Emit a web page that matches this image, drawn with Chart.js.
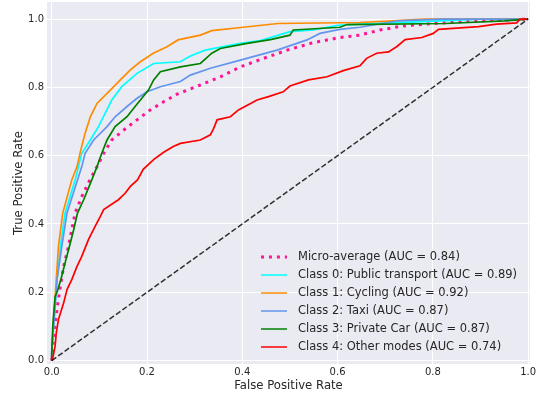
<!DOCTYPE html>
<html>
<head>
<meta charset="utf-8">
<script src="https://cdn.jsdelivr.net/npm/chart.js@4.4.1/dist/chart.umd.min.js"></script>
<style>
  html, body { margin: 0; padding: 0; background: #fff; }
</style>
</head>
<body>
<canvas id="rocChart" width="537" height="394"></canvas>
<script>
// ---- data (fpr / tpr pairs) ----
const tickValues = [0, 0.2, 0.4, 0.6, 0.8, 1.0];

const microFpr = [0, 0.003, 0.0075, 0.012, 0.018, 0.025, 0.035, 0.042, 0.049, 0.063, 0.08, 0.095, 0.109, 0.126, 0.151, 0.179, 0.207, 0.235, 0.263, 0.312, 0.354, 0.396, 0.445, 0.494, 0.549, 0.605, 0.647, 0.689, 0.738, 0.801, 0.857, 0.95, 1.0];
const microTpr = [0, 0.05, 0.11, 0.16, 0.217, 0.276, 0.334, 0.383, 0.432, 0.48, 0.529, 0.568, 0.607, 0.646, 0.675, 0.705, 0.734, 0.758, 0.78, 0.807, 0.831, 0.86, 0.885, 0.909, 0.931, 0.946, 0.953, 0.968, 0.98, 0.987, 0.992, 0.997, 1.0];

const ptFpr = [0, 0, 0.004, 0.011, 0.018, 0.028, 0.049, 0.056, 0.063, 0.081, 0.098, 0.112, 0.126, 0.147, 0.179, 0.214, 0.27, 0.291, 0.322, 0.396, 0.438, 0.5, 0.549, 0.6, 0.647, 0.815, 0.9, 1.0];
const ptTpr = [0, 0.03, 0.11, 0.237, 0.334, 0.432, 0.529, 0.568, 0.607, 0.646, 0.685, 0.724, 0.763, 0.802, 0.841, 0.870, 0.875, 0.892, 0.909, 0.929, 0.937, 0.963, 0.968, 0.982, 0.985, 0.995, 1.0, 1.0];

const cycFpr = [0, 0, 0.003, 0.005, 0.0095, 0.014, 0.023, 0.042, 0.053, 0.061, 0.070, 0.081, 0.095, 0.123, 0.144, 0.165, 0.186, 0.213, 0.242, 0.265, 0.312, 0.336, 0.402, 0.475, 0.647, 0.784, 1.0];
const cycTpr = [0, 0.02, 0.10, 0.14, 0.237, 0.334, 0.432, 0.529, 0.568, 0.617, 0.666, 0.714, 0.753, 0.792, 0.822, 0.851, 0.875, 0.90, 0.919, 0.939, 0.953, 0.966, 0.976, 0.987, 0.99, 1.0, 1.0];

const taxiFpr = [0, 0, 0.005, 0.011, 0.021, 0.032, 0.054, 0.063, 0.070, 0.088, 0.116, 0.133, 0.158, 0.179, 0.2, 0.228, 0.27, 0.291, 0.333, 0.396, 0.473, 0.536, 0.563, 0.605, 0.647, 0.727, 0.82, 1.0];
const taxiTpr = [0, 0.03, 0.12, 0.237, 0.334, 0.432, 0.529, 0.568, 0.607, 0.646, 0.685, 0.714, 0.744, 0.768, 0.787, 0.802, 0.817, 0.836, 0.856, 0.88, 0.909, 0.939, 0.958, 0.97, 0.976, 0.995, 1.0, 1.0];

const carFpr = [0, 0, 0.002, 0.007, 0.011, 0.019, 0.028, 0.037, 0.046, 0.054, 0.067, 0.084, 0.095, 0.105, 0.116, 0.133, 0.158, 0.175, 0.189, 0.203, 0.214, 0.228, 0.27, 0.312, 0.336, 0.354, 0.41, 0.459, 0.5, 0.507, 0.605, 0.62, 0.826, 0.95, 1.0];
const carTpr = [0, 0.02, 0.10, 0.188, 0.2, 0.237, 0.286, 0.334, 0.383, 0.432, 0.471, 0.529, 0.568, 0.607, 0.646, 0.685, 0.714, 0.744, 0.768, 0.792, 0.822, 0.846, 0.86, 0.870, 0.90, 0.914, 0.929, 0.94, 0.953, 0.968, 0.976, 0.984, 0.987, 0.995, 1.0];

const otherFpr = [0, 0.003, 0.007, 0.0095, 0.014, 0.025, 0.032, 0.042, 0.053, 0.063, 0.077, 0.091, 0.102, 0.109, 0.14, 0.154, 0.165, 0.18, 0.192, 0.215, 0.235, 0.255, 0.27, 0.312, 0.333, 0.34, 0.347, 0.375, 0.392, 0.431, 0.455, 0.486, 0.5, 0.539, 0.578, 0.612, 0.647, 0.661, 0.682, 0.707, 0.724, 0.742, 0.777, 0.801, 0.812, 0.896, 0.934, 0.976, 0.983, 1.0];
const otherTpr = [0, 0.013, 0.042, 0.081, 0.12, 0.169, 0.208, 0.237, 0.276, 0.305, 0.354, 0.393, 0.422, 0.442, 0.471, 0.49, 0.51, 0.529, 0.56, 0.59, 0.61, 0.627, 0.636, 0.646, 0.661, 0.68, 0.705, 0.714, 0.734, 0.763, 0.773, 0.787, 0.804, 0.822, 0.831, 0.849, 0.863, 0.885, 0.9, 0.904, 0.919, 0.94, 0.946, 0.958, 0.97, 0.978, 0.985, 0.989, 1.0, 1.0];

const chanceFpr = [0, 1];
const chanceTpr = [0, 1];

const FONT = '"DejaVu Sans", Verdana, sans-serif';
const TEXT = '#262626';

function pts(xs, ys) {
    return xs.map((x, i) => ({ x: x, y: ys[i] }));
}

function curve(label, xs, ys, color, order) {
    return {
        label: label,
        data: pts(xs, ys),
        borderColor: color,
        backgroundColor: color,
        borderWidth: 1.7,
        pointRadius: 0,
        tension: 0,
        fill: false,
        order: order
    };
}

// seaborn-like grey plot background
const plotBg = {
    id: 'plotBg',
    beforeDraw(chart) {
        const { ctx, chartArea: a } = chart;
        ctx.save();
        ctx.fillStyle = '#EAEAF2';
        ctx.fillRect(a.left, a.top, a.right - a.left, a.bottom - a.top);
        ctx.restore();
    }
};

// legend drawn inside the plot, lower right
const innerLegend = {
    id: 'innerLegend',
    afterDraw(chart) {
        const { ctx, chartArea: a } = chart;
        const x0 = a.right - 269;
        let y = a.bottom - 107;
        ctx.save();
        ctx.font = '11.5px ' + FONT;
        ctx.textBaseline = 'middle';
        chart.data.datasets.forEach(ds => {
            if (!ds.label) return;
            ctx.beginPath();
            ctx.strokeStyle = ds.borderColor;
            ctx.lineWidth = ds.borderDash ? ds.borderWidth : 1.5;
            ctx.setLineDash(ds.borderDash || []);
            ctx.moveTo(x0, y);
            ctx.lineTo(x0 + 26, y);
            ctx.stroke();
            ctx.setLineDash([]);
            ctx.fillStyle = TEXT;
            ctx.fillText(ds.label, x0 + 37, y + 0.5);
            y += 18;
        });
        ctx.restore();
    }
};

const ctx = document.getElementById('rocChart').getContext('2d');
const rocChart = new Chart(ctx, {
    type: 'line',
    plugins: [plotBg, innerLegend],
    data: {
        datasets: [
            Object.assign(curve('Micro-average (AUC = 0.84)', microFpr, microTpr, '#FF1493', 6),
                { borderWidth: 3, borderDash: [3, 4.95] }),
            curve('Class 0: Public transport (AUC = 0.89)', ptFpr, ptTpr, '#00FFFF', 5),
            curve('Class 1: Cycling (AUC = 0.92)', cycFpr, cycTpr, '#FF8C00', 4),
            curve('Class 2: Taxi (AUC = 0.87)', taxiFpr, taxiTpr, '#6495ED', 3),
            curve('Class 3: Private Car (AUC = 0.87)', carFpr, carTpr, '#008000', 2),
            curve('Class 4: Other modes (AUC = 0.74)', otherFpr, otherTpr, '#FF0000', 1),
            Object.assign(curve('', chanceFpr, chanceTpr, 'rgba(0,0,0,0.8)', 0),
                { borderWidth: 1.5, borderDash: [5.5, 2.4] })
        ]
    },
    options: {
        responsive: false,
        animation: false,
        devicePixelRatio: 1,
        layout: { padding: { top: 2, right: 7, left: 0, bottom: 0 } },
        plugins: {
            legend: { display: false },
            tooltip: { enabled: false }
        },
        scales: {
            x: {
                type: 'linear',
                min: -0.01,
                max: 1.004,
                afterFit: s => { s.height = 30; s.paddingLeft = 0; s.paddingRight = 0; },
                afterBuildTicks: s => { s.ticks = tickValues.map(v => ({ value: v })); },
                grid: { color: '#FFFFFF', lineWidth: 1, drawTicks: false },
                border: { display: false },
                ticks: {
                    color: TEXT,
                    font: { family: FONT, size: 10 },
                    padding: 2,
                    maxRotation: 0,
                    callback: v => v.toFixed(1)
                },
                title: {
                    display: true,
                    text: 'False Positive Rate',
                    color: TEXT,
                    font: { family: FONT, size: 11.7 },
                    padding: { top: 0, bottom: 1 }
                }
            },
            y: {
                type: 'linear',
                min: -0.01,
                max: 1.05,
                afterFit: s => { s.width = 47; s.paddingTop = 0; s.paddingBottom = 0; },
                afterBuildTicks: s => { s.ticks = tickValues.map(v => ({ value: v })); },
                grid: { color: '#FFFFFF', lineWidth: 1, drawTicks: false },
                border: { display: false },
                ticks: {
                    color: TEXT,
                    font: { family: FONT, size: 10 },
                    padding: 3,
                    callback: v => v.toFixed(1)
                },
                title: {
                    display: true,
                    text: 'True Positive Rate',
                    color: TEXT,
                    font: { family: FONT, size: 11.7 },
                    padding: { top: 12, bottom: 0 }
                }
            }
        }
    }
});
</script>
</body>
</html>
